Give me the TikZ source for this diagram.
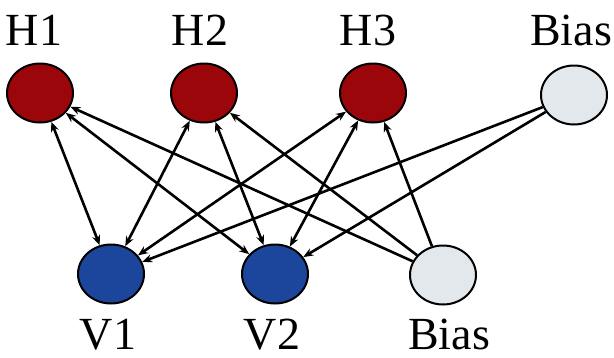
\documentclass[tikz,border=0pt]{standalone}
\usepackage{fontspec}
\setmainfont{Liberation Serif}
\usetikzlibrary{shapes.geometric,arrows.meta}
\definecolor{hidred}{RGB}{155,6,10}
\definecolor{visblue}{RGB}{28,70,155}
\definecolor{biasgrey}{RGB}{226,232,236}

\begin{document}
\begin{tikzpicture}[x=1pt,y=-1pt,
  unit/.style={ellipse, draw=black, line width=2pt, minimum width=66pt, minimum height=59pt, inner sep=0pt},
  hid/.style={unit, fill=hidred},
  vis/.style={unit, fill=visblue},
  biasunit/.style={unit, fill=biasgrey},
  lbl/.style={font=\fontsize{46}{46}\selectfont, inner sep=0pt, anchor=base},
  link/.style={line width=2.6pt, {Stealth[length=10pt,width=8pt]}-{Stealth[length=10pt,width=8pt]}},
  feed/.style={line width=2.6pt, -{Stealth[length=10pt,width=8pt]}}]
\useasboundingbox (0,0) rectangle (614,357);

% hidden layer and its bias
\node[hid] (h1) at (40,93) {};
\node[hid] (h2) at (204,93) {};
\node[hid] (h3) at (373,93) {};
\node[biasunit] (bh) at (574,95) {};

% visible layer and its bias
\node[vis] (v1) at (111,274) {};
\node[vis] (v2) at (275,274) {};
\node[biasunit] (bv) at (443,275) {};

% labels
\node[lbl] (lh1) at (34,45) {H1};
\node[lbl] (lh2) at (200,45) {H2};
\node[lbl] (lh3) at (368,45) {H3};
\node[lbl] (lbh) at (571,45) {Bias};
\node[lbl] (lv1) at (108,349) {V1};
\node[lbl] (lv2) at (272,349) {V2};
\node[lbl] (lbv) at (449,349) {Bias};

% symmetric weights between layers
\foreach \h in {h1,h2,h3}
  \foreach \v in {v1,v2}
    \draw[link] (\h) -- (\v);

% bias connections
\foreach \h in {h1,h2,h3}
  \draw[feed] (bv) -- (\h);
\foreach \v in {v1,v2}
  \draw[feed] (bh) -- (\v);
\end{tikzpicture}
\end{document}
